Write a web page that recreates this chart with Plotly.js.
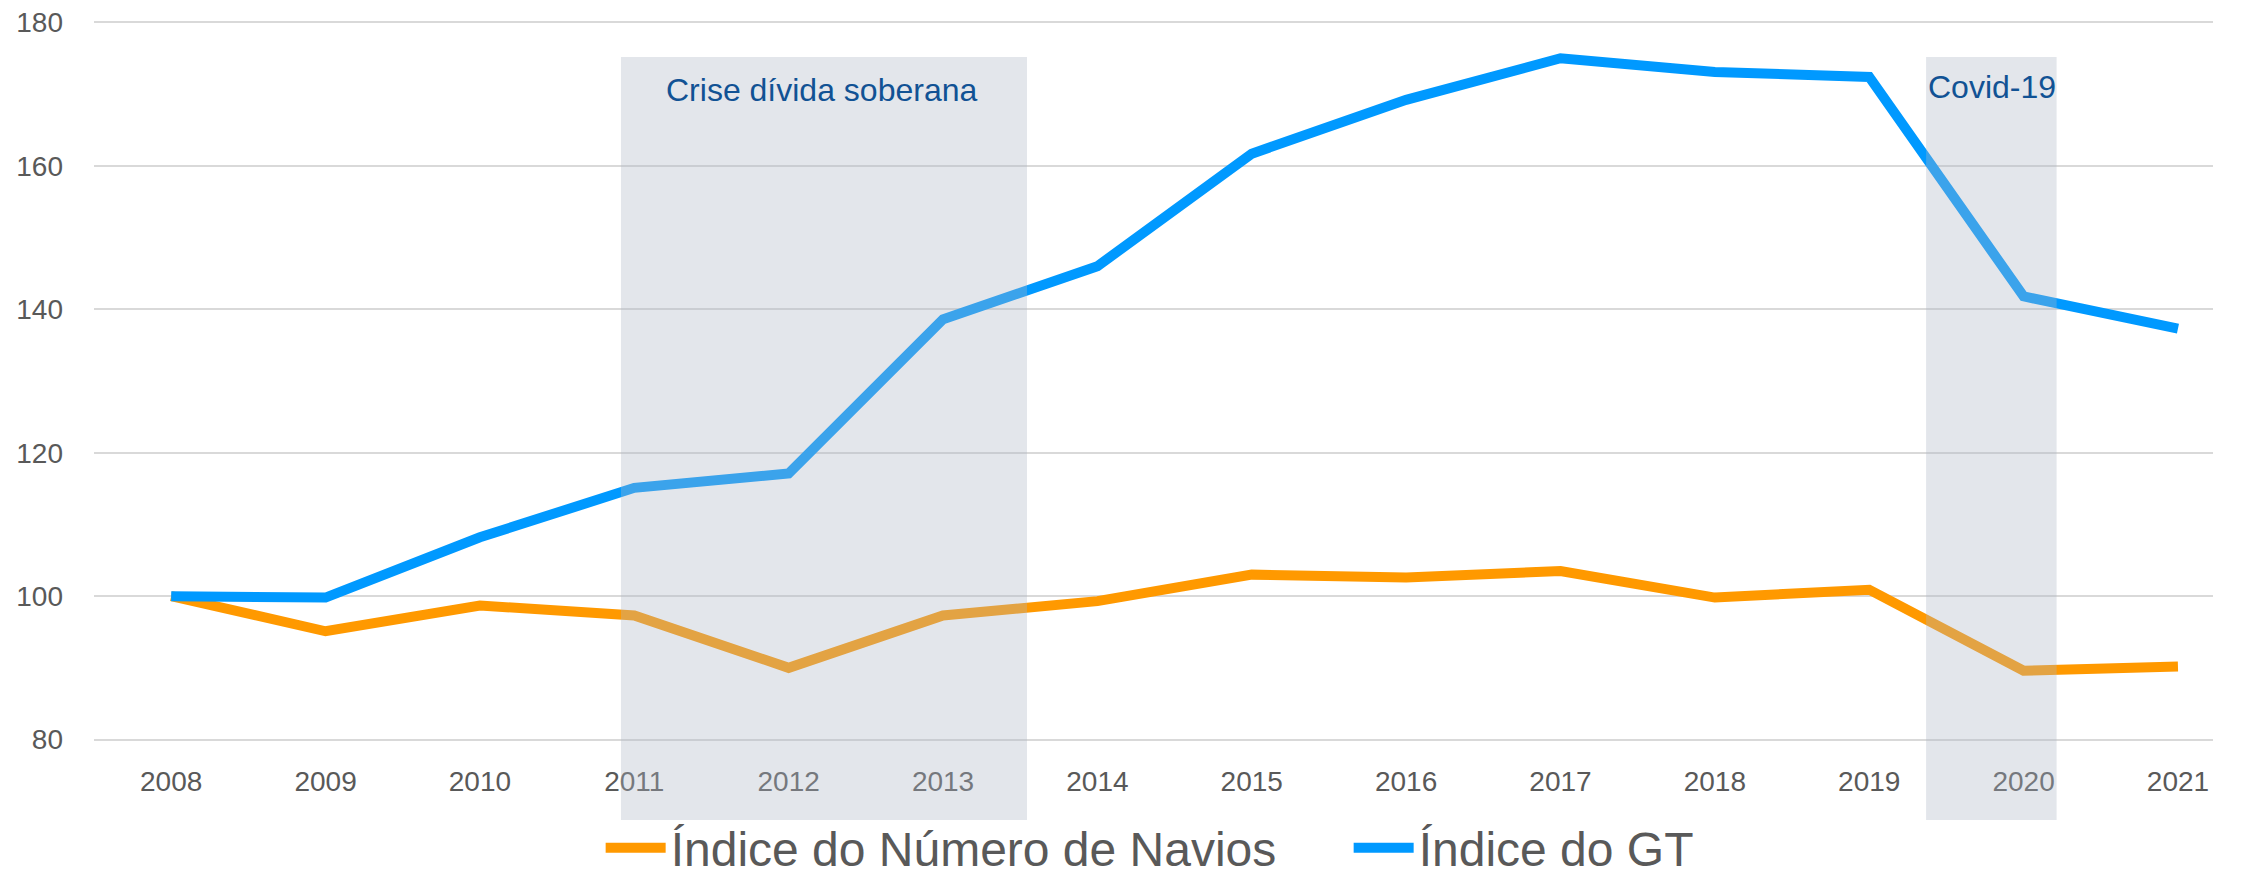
<!DOCTYPE html>
<html>
<head>
<meta charset="utf-8">
<script src="https://cdn.plot.ly/plotly-3.0.1.min.js"></script>
<style>html,body{margin:0;padding:0;background:#fff;}#chart{width:2242px;height:877px;}</style>
</head>
<body>
<div id="chart"></div>
<script>
const years = ['2008','2009','2010','2011','2012','2013','2014','2015','2016','2017','2018','2019','2020','2021'];
const indiceNavios = [100, 95.1, 98.7, 97.3, 90.0, 97.3, 99.3, 103.0, 102.6, 103.5, 99.8, 100.9, 89.6, 90.2];
const indiceGT = [100, 99.8, 108.2, 115.1, 117.1, 138.6, 146.0, 161.7, 169.2, 175.0, 173.1, 172.4, 141.8, 137.3];
const seriesNames = ['Índice do Número de Navios', 'Índice do GT'];
const periodLabels = ['Crise dívida soberana', 'Covid-19'];

const traces = [
  {x: years, y: indiceNavios, name: seriesNames[0], type: 'scatter', mode: 'lines',
   line: {color: '#FF9900', width: 10}},
  {x: years, y: indiceGT, name: seriesNames[1], type: 'scatter', mode: 'lines',
   line: {color: '#0099FF', width: 10}}
];

const shade = {type: 'rect', xref: 'paper', yref: 'paper', layer: 'above',
  fillcolor: 'rgb(172,181,196)', opacity: 0.34, line: {width: 0}};

const layout = {
  width: 2242, height: 877,
  margin: {l: 94, r: 29, t: 21.07, b: 136.07, autoexpand: false},
  paper_bgcolor: '#ffffff', plot_bgcolor: '#ffffff',
  font: {family: 'Liberation Sans, Arial, sans-serif', color: '#595959'},
  showlegend: true,
  legend: {orientation: 'h', x: 0.2391, xanchor: 'left', y: -0.1487, yanchor: 'middle',
    bgcolor: 'rgba(0,0,0,0)',
    font: {size: 48, color: '#595959', family: 'Liberation Sans, Arial, sans-serif'},
    itemwidth: 60, entrywidth: 673, entrywidthmode: 'pixels', traceorder: 'normal'},
  xaxis: {type: 'category', range: [-0.5, 13.227], showgrid: false, zeroline: false,
    showline: false, ticks: '', tickfont: {size: 28, color: '#595959'}, ticklabelstandoff: 21},
  yaxis: {range: [79.8, 180.2], tickvals: [80, 100, 120, 140, 160, 180], showgrid: true,
    gridcolor: '#D9D9D9', gridwidth: 2,
    zeroline: false, showline: false, ticks: '', tickfont: {size: 28, color: '#595959'},
    ticklabelstandoff: 30},
  shapes: [
    Object.assign({x0: 0.2487, x1: 0.4403, y0: -0.1098, y1: 0.9501}, shade),
    Object.assign({x0: 0.8646, x1: 0.9262, y0: -0.1098, y1: 0.9501}, shade)
  ],
  annotations: [
    {text: periodLabels[0], xref: 'paper', yref: 'paper', x: 0.3431, y: 0.9042,
     xanchor: 'center', yanchor: 'middle', showarrow: false,
     font: {size: 32, color: '#115294', family: 'Liberation Sans, Arial, sans-serif'}},
    {text: periodLabels[1], xref: 'paper', yref: 'paper', x: 0.8646, y: 0.9084,
     xanchor: 'left', yanchor: 'middle', showarrow: false,
     font: {size: 32, color: '#115294', family: 'Liberation Sans, Arial, sans-serif'}}
  ]
};

Plotly.newPlot('chart', traces, layout, {displayModeBar: false, staticPlot: true});
</script>
</body>
</html>
